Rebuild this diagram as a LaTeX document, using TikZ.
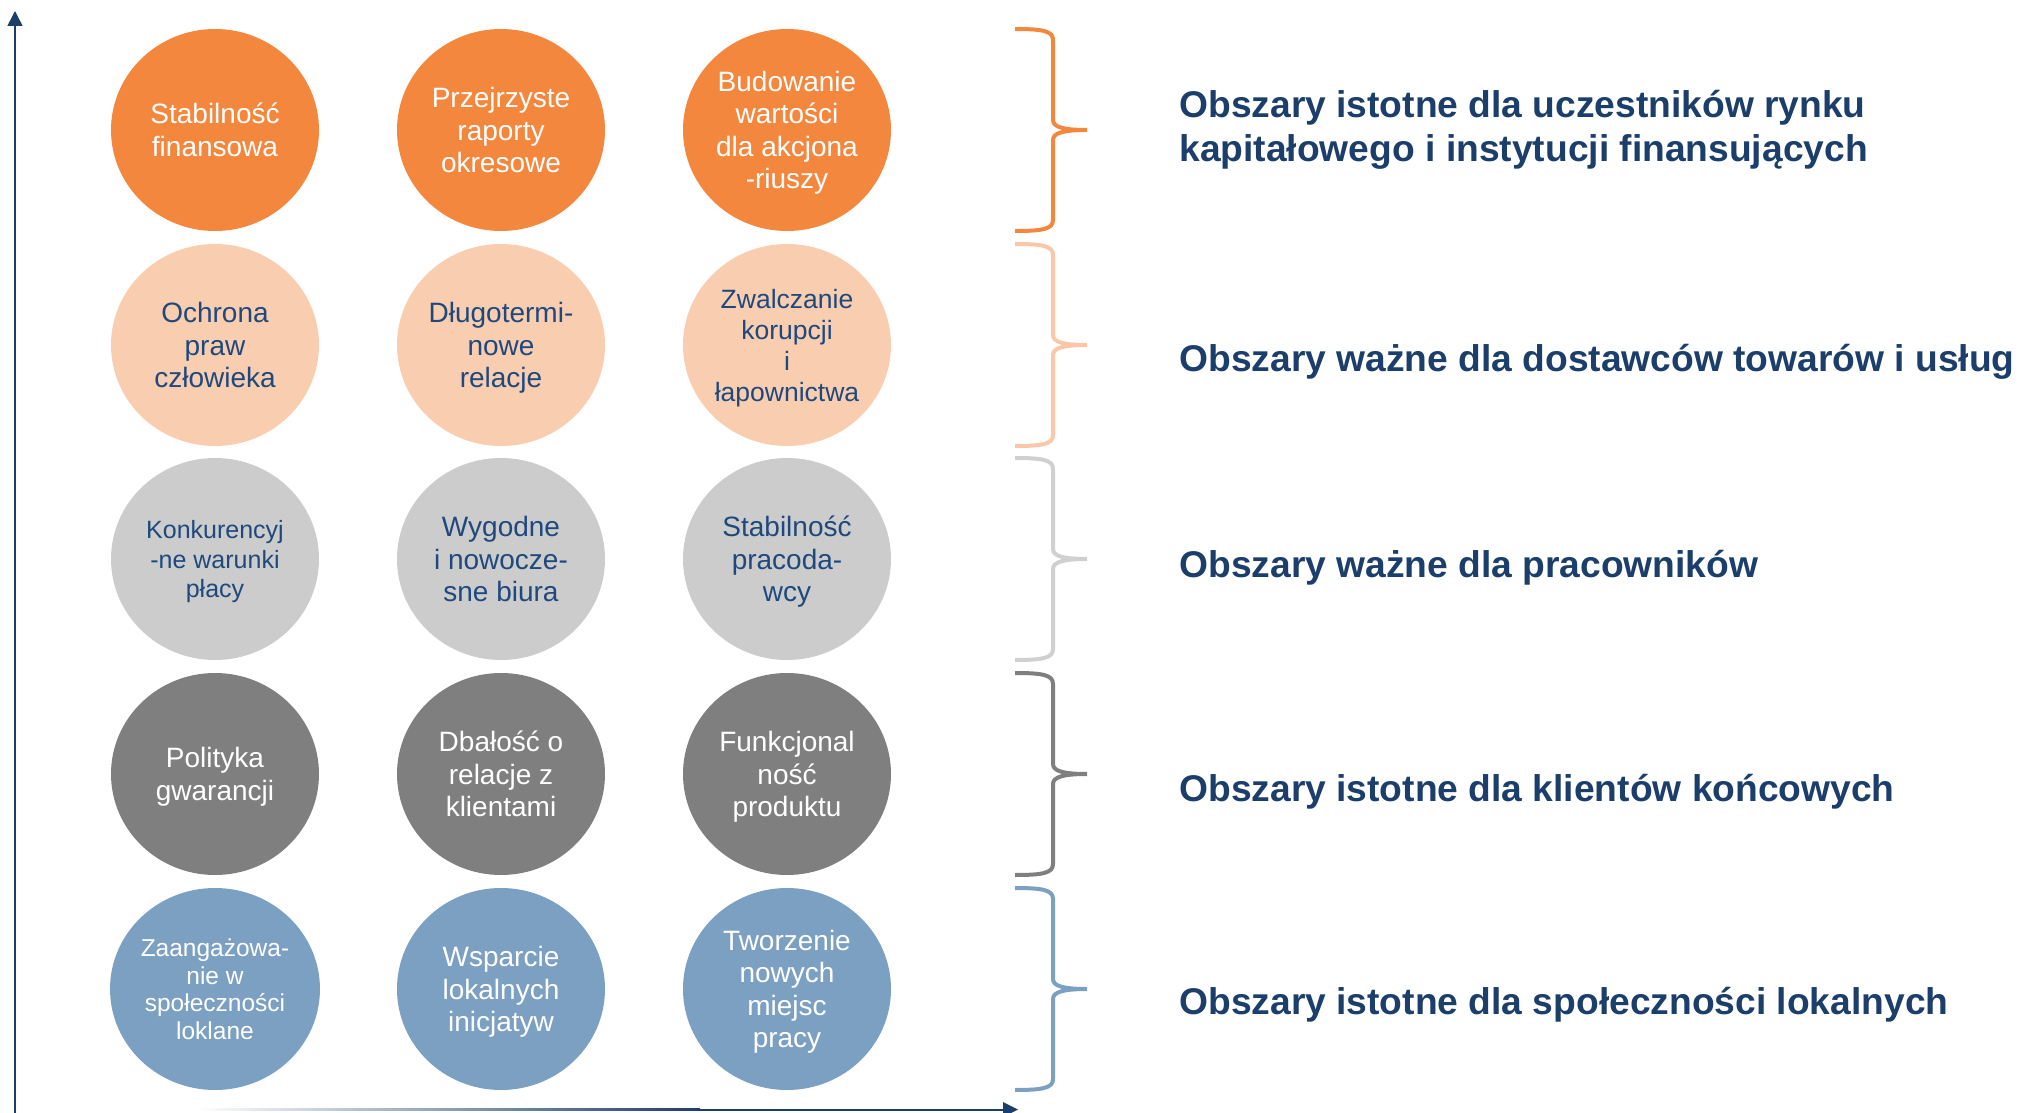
\documentclass[tikz,border=0pt]{standalone}
\usepackage{fontspec}
\setmainfont{Liberation Sans}
\usetikzlibrary{shapes.geometric,arrows.meta}
\definecolor{corange}{RGB}{244,135,62}
\definecolor{cpeach}{RGB}{249,205,175}
\definecolor{clgray}{RGB}{204,204,204}
\definecolor{cdgray}{RGB}{127,127,127}
\definecolor{cblue}{RGB}{123,160,194}
\definecolor{cbpeach}{RGB}{250,200,168}
\definecolor{cblgray}{RGB}{208,208,208}
\definecolor{cnavy}{RGB}{28,62,107}
\definecolor{ctext}{RGB}{31,73,125}
\newcommand\bubstrut{\rule{0pt}{1.4em}}
\newcommand\nodepth[1]{\raisebox{0pt}[\height][0pt]{#1}}
\tikzset{
  rbrace/.pic={\draw[line width=2pt]
    (-38,-101) .. controls (-10,-101) and (0,-99) .. (0,-90) -- (0,-10)
    .. controls (0,-3) and (10,0) .. (34,0)
    .. controls (10,0) and (0,3) .. (0,10) -- (0,90)
    .. controls (0,99) and (-10,101) .. (-38,101);}
}
\begin{document}
\begin{tikzpicture}[x=0.5pt,y=-0.5pt,
  bub/.style={ellipse, inner sep=0pt, minimum width=104pt, minimum height=101pt,
    align=center, font=\fontsize{14}{16.2}\selectfont,
    execute at begin node=\bubstrut, execute at end node=\bubstrut},
  rowA/.style={bub, fill=corange, text=white},
  rowB/.style={bub, fill=cpeach, text=ctext},
  rowC/.style={bub, fill=clgray, text=ctext},
  rowD/.style={bub, fill=cdgray, text=white},
  rowE/.style={bub, fill=cblue, text=white},
  lab/.style={anchor=base west, align=left, inner sep=0pt, text=cnavy,
    font=\fontsize{18.6}{22}\selectfont\bfseries},
  axisline/.style={draw=cnavy, line width=0.75pt}
]
\useasboundingbox (0,0) rectangle (2020,1113);

% axes
\coordinate (yo) at (15,1113);
\coordinate (yt) at (15,11);
\draw[axisline, -{Triangle[length=7.5pt,width=7.5pt]}] (yo) -- (yt);
\coordinate (xo) at (197,1109.5);
\coordinate (xm) at (700,1109.5);
\coordinate (xt) at (1018,1109.5);
\shade[left color=white, right color=cnavy] (197,1108.5) rectangle (700,1110.5);
\fill[cnavy] (700,1108.5) rectangle (1004,1110.5);
\fill[cnavy] (1003,1102) -- (xt) -- (1003,1117) -- cycle;

% row 1
\node[rowA] (a1) at (215,130) {Stabilność\\finansowa};
\node[rowA] (a2) at (501,130) {Przejrzyste\\raporty\\okresowe};
\node[rowA] (a3) at (787,130) {Budowanie\\wartości\\dla akcjona\\\nodepth{-riuszy}};
% row 2
\node[rowB] (b1) at (215,345) {Ochrona\\praw\\człowieka};
\node[rowB] (b2) at (501,345) {Długotermi-\\nowe\\\nodepth{relacje}};
\node[rowB, font=\fontsize{13.25}{15.5}\selectfont] (b3) at (787,345) {Zwalczanie\\korupcji\\i\\\nodepth{łapownictwa}};
% row 3
\node[rowC, font=\fontsize{12.5}{14.8}\selectfont] (c1) at (215,559) {Konkurencyj\\-ne warunki\\\nodepth{płacy}};
\node[rowC] (c2) at (501,559) {Wygodne\\i nowocze-\\sne biura};
\node[rowC] (c3) at (787,559) {Stabilność\\pracoda-\\\nodepth{wcy}};
% row 4
\node[rowD] (d1) at (215,774) {Polityka\\\nodepth{gwarancji}};
\node[rowD] (d2) at (501,774) {Dbałość o\\relacje z\\klientami};
\node[rowD] (d3) at (787,774) {Funkcjonal\\ność\\\nodepth{produktu}};
% row 5
\node[rowE, font=\fontsize{12.25}{13.75}\selectfont] (e1) at (215,989) {Zaangażowa-\\nie w\\społeczności\\loklane};
\node[rowE] (e2) at (501,989) {Wsparcie\\lokalnych\\\nodepth{inicjatyw}};
\node[rowE] (e3) at (787,989) {Tworzenie\\nowych\\miejsc\\\nodepth{pracy}};

% braces
\pic[color=corange] (br1) at (1053,130) {rbrace};
\pic[color=cbpeach] (br2) at (1053,345) {rbrace};
\pic[color=cblgray] (br3) at (1053,559) {rbrace};
\pic[color=cdgray] (br4) at (1053,774) {rbrace};
\pic[color=cblue] (br5) at (1053,989) {rbrace};

% labels
\node[lab] (l1) at (1179,162) {Obszary istotne dla uczestników rynku\\kapitałowego i instytucji finansujących};
\node[lab] (l2) at (1179,371) {Obszary ważne dla dostawców towarów i usług};
\node[lab] (l3) at (1179,577) {Obszary ważne dla pracowników};
\node[lab] (l4) at (1179,801) {Obszary istotne dla klientów końcowych};
\node[lab] (l5) at (1179,1014) {Obszary istotne dla społeczności lokalnych};
\end{tikzpicture}
\end{document}
